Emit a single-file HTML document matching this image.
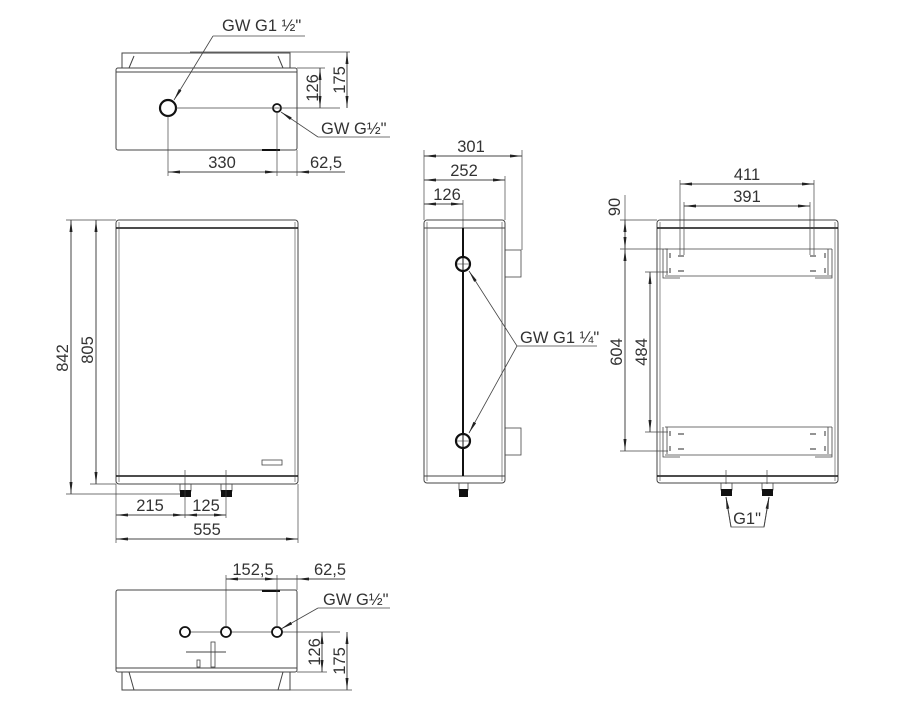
<!DOCTYPE html>
<html><head><meta charset="utf-8"><style>
html,body{margin:0;padding:0;background:#fff;}
svg{display:block}
text{font-family:"Liberation Sans","DejaVu Sans",sans-serif;font-size:16.5px;fill:#333;}
</style></head><body>
<svg width="920" height="720" viewBox="0 0 920 720" xmlns="http://www.w3.org/2000/svg">
<defs>
<marker id="a" viewBox="0 0 12 4" refX="12" refY="2" markerWidth="12" markerHeight="4" markerUnits="userSpaceOnUse" orient="auto-start-reverse"><path d="M0,0.5 L12,2 L0,3.5z" fill="#222"/></marker>
</defs>
<g fill="none" stroke="#444" stroke-width="1">

<!-- TOP VIEW -->
<path d="M122,68 L122,53 L290,53 L290,68"/>
<path d="M134,56 L129,68 M278,56 L283,68"/>
<rect x="116" y="68" width="181" height="82" rx="2"/>
<line x1="116" y1="72" x2="297" y2="72"/>
<circle cx="168" cy="108" r="8" stroke="#111" stroke-width="2.2"/>
<circle cx="277" cy="108" r="4" stroke="#111" stroke-width="1.8"/>
<line x1="176" y1="108" x2="340" y2="108" stroke-width="0.7"/>
<line x1="190" y1="52" x2="350" y2="52" stroke-width="0.7"/>
<line x1="297" y1="68" x2="325" y2="68" stroke-width="0.7"/>
<line x1="320" y1="68" x2="320" y2="108" marker-start="url(#a)" marker-end="url(#a)"/>
<line x1="347" y1="52" x2="347" y2="108" marker-start="url(#a)" marker-end="url(#a)"/>
<line x1="262" y1="150" x2="280" y2="150" stroke="#111" stroke-width="2"/>
<line x1="168" y1="116" x2="168" y2="176" stroke-width="0.7"/>
<line x1="277" y1="112" x2="277" y2="176" stroke-width="0.7"/>
<line x1="297" y1="150" x2="297" y2="176" stroke-width="0.7"/>
<line x1="168" y1="172" x2="277" y2="172" marker-start="url(#a)" marker-end="url(#a)"/>
<line x1="277" y1="172" x2="345" y2="172"/>
<line x1="308" y1="172" x2="297" y2="172" marker-end="url(#a)"/>
<line x1="305" y1="36" x2="213" y2="36" stroke-width="0.8"/>
<line x1="213" y1="36" x2="174" y2="100" stroke-width="0.8" marker-end="url(#a)"/>
<line x1="390" y1="137" x2="318" y2="137" stroke-width="0.8"/>
<line x1="318" y1="137" x2="281" y2="112" stroke-width="0.8" marker-end="url(#a)"/>

<!-- FRONT VIEW -->
<rect x="116" y="220" width="182" height="264" rx="3"/>
<line x1="116" y1="228" x2="298" y2="228" stroke="#111" stroke-width="1.6"/>
<line x1="116" y1="476" x2="298" y2="476" stroke="#111" stroke-width="1.6"/>
<line x1="119" y1="222" x2="119" y2="482" stroke-width="0.6"/>
<line x1="295" y1="222" x2="295" y2="482" stroke-width="0.6"/>
<rect x="262" y="460" width="20" height="5" stroke-width="0.8"/>
<rect x="180" y="484" width="11" height="7" stroke-width="0.8"/>
<rect x="221" y="484" width="11" height="7" stroke-width="0.8"/>
<rect x="180" y="490" width="11" height="7" fill="#111" stroke="none"/>
<rect x="221" y="490" width="11" height="7" fill="#111" stroke="none"/>
<line x1="66" y1="220" x2="116" y2="220" stroke-width="0.7"/>
<line x1="90" y1="484" x2="116" y2="484" stroke-width="0.7"/>
<line x1="66" y1="494" x2="180" y2="494" stroke-width="0.7"/>
<line x1="71" y1="220" x2="71" y2="494" marker-start="url(#a)" marker-end="url(#a)"/>
<line x1="96" y1="220" x2="96" y2="484" marker-start="url(#a)" marker-end="url(#a)"/>
<line x1="116" y1="484" x2="116" y2="543" stroke-width="0.7"/>
<line x1="298" y1="484" x2="298" y2="543" stroke-width="0.7"/>
<line x1="185" y1="470" x2="185" y2="518" stroke-width="0.7"/>
<line x1="226" y1="470" x2="226" y2="518" stroke-width="0.7"/>
<line x1="116" y1="515" x2="185" y2="515" marker-start="url(#a)" marker-end="url(#a)"/>
<line x1="185" y1="515" x2="226" y2="515" marker-start="url(#a)" marker-end="url(#a)"/>
<line x1="116" y1="539" x2="298" y2="539" marker-start="url(#a)" marker-end="url(#a)"/>

<!-- SIDE VIEW -->
<rect x="424" y="220" width="81" height="263" rx="3"/>
<line x1="424" y1="228" x2="505" y2="228"/>
<line x1="424" y1="476" x2="505" y2="476"/>
<line x1="427" y1="222" x2="427" y2="481" stroke-width="0.6"/>
<line x1="502" y1="222" x2="502" y2="481" stroke-width="0.6"/>
<rect x="505" y="250" width="16" height="27" stroke-width="0.8"/>
<rect x="505" y="428" width="16" height="27" stroke-width="0.8"/>
<line x1="463" y1="200" x2="463" y2="228" stroke-width="0.7"/>
<line x1="463" y1="228" x2="463" y2="476" stroke="#111" stroke-width="2"/>
<circle cx="463" cy="264" r="7" fill="#fff" stroke="#111" stroke-width="2.2"/>
<circle cx="463" cy="441" r="7" fill="#fff" stroke="#111" stroke-width="2.2"/>
<line x1="463" y1="258" x2="463" y2="270" stroke="#111"/><line x1="457" y1="264" x2="469" y2="264" stroke-width="0.6"/>
<line x1="463" y1="435" x2="463" y2="447" stroke="#111"/><line x1="457" y1="441" x2="469" y2="441" stroke-width="0.6"/>
<rect x="459" y="483" width="9" height="7" stroke-width="0.8"/>
<rect x="459" y="489" width="9" height="8" fill="#111" stroke="none"/>
<line x1="424" y1="150" x2="424" y2="220" stroke-width="0.7"/>
<line x1="522" y1="150" x2="522" y2="250" stroke-width="0.7"/>
<line x1="505" y1="176" x2="505" y2="220" stroke-width="0.7"/>
<line x1="424" y1="156" x2="522" y2="156" marker-start="url(#a)" marker-end="url(#a)"/>
<line x1="424" y1="180" x2="505" y2="180" marker-start="url(#a)" marker-end="url(#a)"/>
<line x1="424" y1="204" x2="463" y2="204" marker-start="url(#a)" marker-end="url(#a)"/>
<line x1="597" y1="346" x2="517" y2="346" stroke-width="0.8"/>
<line x1="517" y1="346" x2="469" y2="271" stroke-width="0.8" marker-end="url(#a)"/>
<line x1="517" y1="346" x2="469" y2="433" stroke-width="0.8" marker-end="url(#a)"/>

<!-- RIGHT VIEW -->
<rect x="657" y="220" width="181" height="263" rx="3"/>
<line x1="657" y1="228" x2="838" y2="228" stroke="#111" stroke-width="1.4"/>
<line x1="657" y1="476" x2="838" y2="476" stroke="#111" stroke-width="1.4"/>
<line x1="660" y1="222" x2="660" y2="481" stroke-width="0.6"/>
<line x1="835" y1="222" x2="835" y2="481" stroke-width="0.6"/>
<g stroke-width="0.8">
<path d="M665,249 L832,249 M665,276 L832,276"/>
<path d="M663,249 L663,278 L680,278 M667,249 L667,275"/>
<path d="M832,249 L832,278 L815,278 M828,249 L828,275"/>
<path d="M665,427 L832,427 M665,455 L832,455"/>
<path d="M663,427 L663,457 L680,457 M667,427 L667,454"/>
<path d="M832,427 L832,457 L815,457 M828,427 L828,454"/>
</g>
<g stroke="#555" stroke-width="1.2">
<path d="M670,253v5 M670,268v5 M670,431v5 M670,446v5 M825,253v5 M825,268v5 M825,431v5 M825,446v5"/>
<path d="M678,256h6 M678,271h6 M678,434h6 M678,449h6 M810,256h6 M810,271h6 M810,434h6 M810,449h6"/>
</g>
<line x1="680" y1="180" x2="680" y2="255" stroke-width="0.7"/>
<line x1="814" y1="180" x2="814" y2="255" stroke-width="0.7"/>
<line x1="684" y1="202" x2="684" y2="255" stroke-width="0.7"/>
<line x1="810" y1="202" x2="810" y2="255" stroke-width="0.7"/>
<line x1="680" y1="184" x2="814" y2="184" marker-start="url(#a)" marker-end="url(#a)"/>
<line x1="684" y1="206" x2="810" y2="206" marker-start="url(#a)" marker-end="url(#a)"/>
<line x1="625" y1="195" x2="625" y2="220" stroke-width="0.7"/>
<line x1="620" y1="220" x2="657" y2="220" stroke-width="0.7"/>
<line x1="620" y1="249" x2="668" y2="249" stroke-width="0.7"/>
<line x1="620" y1="451" x2="668" y2="451" stroke-width="0.7"/>
<line x1="645" y1="272" x2="668" y2="272" stroke-width="0.7"/>
<line x1="645" y1="432" x2="668" y2="432" stroke-width="0.7"/>
<line x1="625" y1="220" x2="625" y2="249" marker-start="url(#a)" marker-end="url(#a)"/>
<line x1="625" y1="249" x2="625" y2="451" marker-start="url(#a)" marker-end="url(#a)"/>
<line x1="650" y1="272" x2="650" y2="432" marker-start="url(#a)" marker-end="url(#a)"/>
<line x1="726" y1="470" x2="726" y2="484" stroke-width="0.7"/>
<line x1="767" y1="470" x2="767" y2="484" stroke-width="0.7"/>
<rect x="721" y="483" width="11" height="7" stroke-width="0.8"/>
<rect x="762" y="483" width="11" height="7" stroke-width="0.8"/>
<rect x="721" y="489" width="11" height="7" fill="#111" stroke="none"/>
<rect x="762" y="489" width="11" height="7" fill="#111" stroke="none"/>
<path d="M726,497 L731,527 L764,527 L769,497" stroke-width="0.8"/>
<line x1="731" y1="527" x2="726" y2="497" marker-end="url(#a)"/>
<line x1="764" y1="527" x2="769" y2="497" marker-end="url(#a)"/>

<!-- BOTTOM VIEW -->
<rect x="116" y="590" width="181" height="82" rx="2"/>
<line x1="116" y1="668" x2="297" y2="668"/>
<path d="M122,672 L122,690 L290,690 L290,672"/>
<path d="M129,672 L134,690 M283,672 L278,690"/>
<line x1="262" y1="591" x2="280" y2="591" stroke="#111" stroke-width="2"/>
<line x1="190" y1="632" x2="340" y2="632" stroke-width="0.7"/>
<circle cx="185" cy="632" r="5" fill="#fff" stroke="#111" stroke-width="1.8"/>
<circle cx="226" cy="632" r="5" fill="#fff" stroke="#111" stroke-width="1.8"/>
<circle cx="277" cy="632" r="5" fill="#fff" stroke="#111" stroke-width="1.8"/>
<line x1="186" y1="652" x2="226" y2="652"/>
<rect x="211" y="642" width="4" height="25" stroke-width="0.8"/>
<rect x="197" y="660" width="3" height="7" stroke-width="0.8"/>
<line x1="226" y1="575" x2="226" y2="627" stroke-width="0.7"/>
<line x1="277" y1="575" x2="277" y2="627" stroke-width="0.7"/>
<line x1="297" y1="575" x2="297" y2="590" stroke-width="0.7"/>
<line x1="226" y1="579" x2="277" y2="579" marker-start="url(#a)" marker-end="url(#a)"/>
<line x1="277" y1="579" x2="345" y2="579"/>
<line x1="308" y1="579" x2="297" y2="579" marker-end="url(#a)"/>
<line x1="390" y1="608" x2="318" y2="608" stroke-width="0.8"/>
<line x1="318" y1="608" x2="281" y2="629" stroke-width="0.8" marker-end="url(#a)"/>
<line x1="297" y1="672" x2="327" y2="672" stroke-width="0.7"/>
<line x1="290" y1="690" x2="352" y2="690" stroke-width="0.7"/>
<line x1="322" y1="632" x2="322" y2="672" marker-start="url(#a)" marker-end="url(#a)"/>
<line x1="347" y1="632" x2="347" y2="690" marker-start="url(#a)" marker-end="url(#a)"/>
</g>

<!-- LABELS -->
<text x="222" y="31">GW G1 ½"</text>
<text x="321" y="134">GW G½"</text>
<text x="222" y="168" text-anchor="middle">330</text>
<text x="326" y="168" text-anchor="middle">62,5</text>
<text transform="translate(318,88) rotate(-90)" text-anchor="middle">126</text>
<text transform="translate(345,80) rotate(-90)" text-anchor="middle">175</text>

<text transform="translate(68,358) rotate(-90)" text-anchor="middle">842</text>
<text transform="translate(93,350) rotate(-90)" text-anchor="middle">805</text>
<text x="150" y="511" text-anchor="middle">215</text>
<text x="206" y="511" text-anchor="middle">125</text>
<text x="207" y="535" text-anchor="middle">555</text>

<text x="471" y="152" text-anchor="middle">301</text>
<text x="464" y="176" text-anchor="middle">252</text>
<text x="447" y="200" text-anchor="middle">126</text>
<text x="520" y="343">GW G1 ¼"</text>

<text x="747" y="180" text-anchor="middle">411</text>
<text x="747" y="202" text-anchor="middle">391</text>
<text transform="translate(620,207) rotate(-90)" text-anchor="middle">90</text>
<text transform="translate(622,352) rotate(-90)" text-anchor="middle">604</text>
<text transform="translate(647,352) rotate(-90)" text-anchor="middle">484</text>
<text x="747" y="524" text-anchor="middle">G1"</text>

<text x="253" y="575" text-anchor="middle">152,5</text>
<text x="330" y="575" text-anchor="middle">62,5</text>
<text x="323" y="605">GW G½"</text>
<text transform="translate(320,652) rotate(-90)" text-anchor="middle">126</text>
<text transform="translate(345,661) rotate(-90)" text-anchor="middle">175</text>
</svg>
</body></html>
